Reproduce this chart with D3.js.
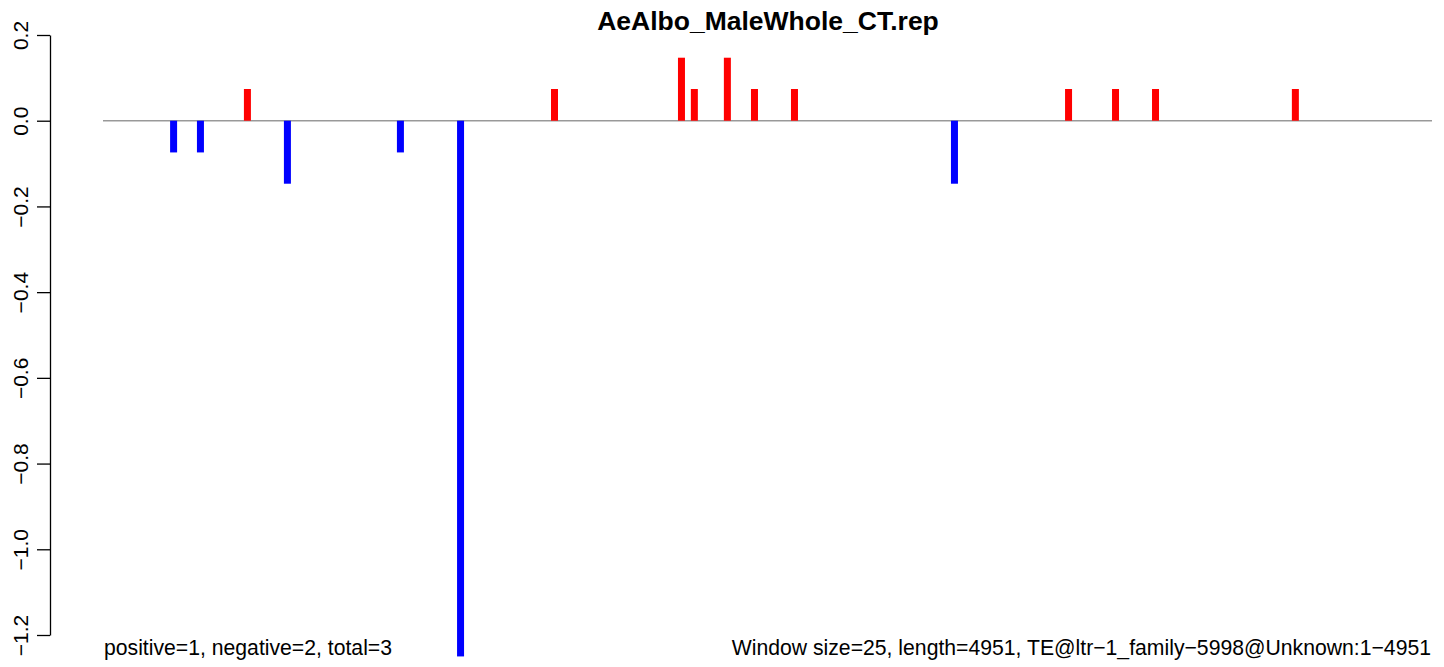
<!DOCTYPE html>
<html>
<head>
<meta charset="utf-8">
<script src="https://cdn.jsdelivr.net/npm/d3@7"></script>
<style>
  html, body { margin: 0; padding: 0; background: #ffffff; }
  svg { display: block; font-family: "Liberation Sans", Arial, Helvetica, sans-serif; }
</style>
</head>
<body>
<svg id="chart" width="1444" height="667"></svg>
<script>
// ---- data ----
const titleText = "AeAlbo_MaleWhole_CT.rep";
const seqLength = 4951;
const positions = [263, 363, 538, 687, 1108, 1332, 1682, 2155, 2203, 2326, 2427, 2576, 3172, 3597, 3772, 3921, 4442];
const values    = [-0.074, -0.074, 0.074, -0.147, -0.074, -1.25, 0.074, 0.147, 0.074, 0.147, 0.074, 0.074, -0.147, 0.074, 0.074, 0.074, 0.074];
const yTicks = [0.2, 0.0, -0.2, -0.4, -0.6, -0.8, -1.0, -1.2];
const leftNote = "positive=1, negative=2, total=3";
const rightNote = "Window size=25, length=4951, TE@ltr\u22121_family\u22125998@Unknown:1\u22124951";

// ---- layout ----
const svg = d3.select("#chart");
const x = d3.scaleLinear().domain([0, seqLength]).range([103, 1432]);
const y = d3.scaleLinear().domain([0.2, -1.2]).range([35, 635]);

// title
svg.append("text")
  .attr("x", 768).attr("y", 30)
  .attr("text-anchor", "middle")
  .attr("font-weight", "bold")
  .attr("font-size", 26.5)
  .text(titleText);

// y axis
const yAxis = d3.axisLeft(y)
  .tickValues(yTicks)
  .tickFormat(d => d3.format(".1f")(d).replace("-", "\u2212"))
  .tickSize(13)
  .tickSizeOuter(0);
const gA = svg.append("g").attr("transform", "translate(50,0)").call(yAxis);
gA.select(".domain").attr("stroke", "#000").attr("stroke-width", 1.3);
gA.selectAll(".tick line").attr("stroke", "#000").attr("stroke-width", 1.3);
gA.selectAll(".tick text")
  .attr("font-size", 21)
  .attr("font-family", "Liberation Sans, Arial, sans-serif")
  .attr("fill", "#000")
  .attr("text-anchor", "middle")
  .attr("dy", null)
  .attr("x", null)
  .attr("transform", "translate(-22,0) rotate(-90)");

// zero line
svg.append("line")
  .attr("x1", x(0)).attr("x2", x(seqLength))
  .attr("y1", y(0)).attr("y2", y(0))
  .attr("stroke", "#999999").attr("stroke-width", 1.6);

// bars
svg.append("g").selectAll("rect")
  .data(positions.map((p, i) => ({p, v: values[i]})))
  .join("rect")
  .attr("x", d => x(d.p) - 3.5)
  .attr("width", 7)
  .attr("y", d => Math.min(y(0), y(d.v)))
  .attr("height", d => Math.abs(y(d.v) - y(0)))
  .attr("fill", d => d.v > 0 ? "#ff0000" : "#0000ff");

// notes
svg.append("text")
  .attr("x", 104).attr("y", 655)
  .attr("font-size", 21.2)
  .text(leftNote);
svg.append("text")
  .attr("x", 1431).attr("y", 655)
  .attr("text-anchor", "end")
  .attr("font-size", 21.2)
  .text(rightNote);
</script>
</body>
</html>
